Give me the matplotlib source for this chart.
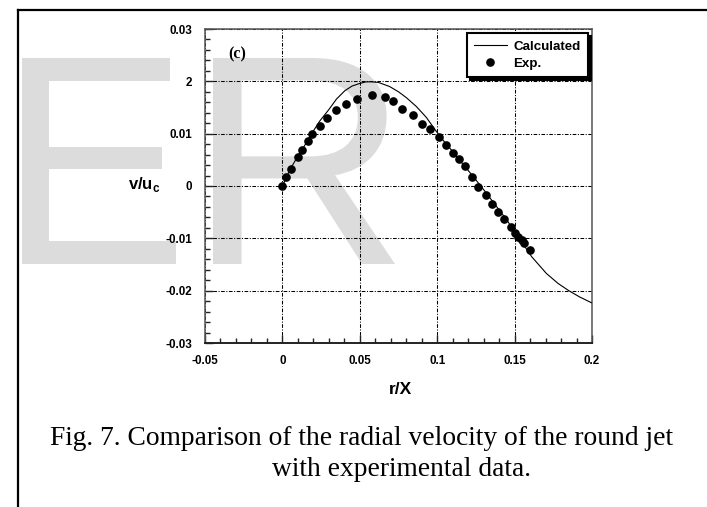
import matplotlib
matplotlib.use('Agg')
import matplotlib.pyplot as plt
from matplotlib.textpath import TextPath
from matplotlib.font_manager import FontProperties
from matplotlib.patches import PathPatch
from matplotlib.transforms import Affine2D
from matplotlib.lines import Line2D
from matplotlib.ticker import FixedLocator, MultipleLocator

# ---------------- data ----------------
calc_r = [0.0, 0.005, 0.010, 0.0133, 0.0187, 0.0241, 0.030, 0.0349, 0.0403, 0.0450,
          0.050, 0.0540, 0.0575, 0.062, 0.0693, 0.075, 0.080, 0.0865, 0.093, 0.0995,
          0.105, 0.110, 0.116, 0.123, 0.130, 0.137, 0.1447, 0.153, 0.161, 0.1705,
          0.178, 0.185, 0.192, 0.1996]
calc_v = [0.0, 0.0032, 0.0057, 0.0072, 0.0099, 0.0124, 0.0146, 0.0166, 0.0182, 0.0191,
          0.0196, 0.0199, 0.0199, 0.0198, 0.0190, 0.0180, 0.0169, 0.0152, 0.0131, 0.0104,
          0.0083, 0.0066, 0.0044, 0.0019, -0.0007, -0.0034, -0.0064, -0.0100, -0.0135, -0.0167,
          -0.0186, -0.0200, -0.0212, -0.0223]

exp_r = [0.0, 0.0021, 0.0056, 0.0103, 0.0129, 0.0166, 0.0194, 0.0241, 0.0287, 0.0345,
         0.0411, 0.0485, 0.0580, 0.0662, 0.0717, 0.0772, 0.0841, 0.0901, 0.0953, 0.1013,
         0.1056, 0.1099, 0.1142, 0.1181, 0.1226, 0.1263, 0.1313, 0.1352, 0.1391, 0.1433,
         0.1475, 0.1503, 0.1525, 0.1547, 0.1560, 0.1601]
exp_v = [0.0, 0.0017, 0.0033, 0.0056, 0.0068, 0.0086, 0.0100, 0.0115, 0.0129, 0.0145,
         0.0157, 0.0167, 0.0173, 0.0170, 0.0162, 0.0148, 0.0135, 0.0118, 0.0108, 0.0094,
         0.0078, 0.0063, 0.0051, 0.0038, 0.0018, -0.0001, -0.0018, -0.0034, -0.0050, -0.0064,
         -0.0079, -0.0090, -0.0097, -0.0104, -0.0108, -0.0123]

xticks = [-0.05, 0.0, 0.05, 0.1, 0.15, 0.2]
xtick_labels = ['-0.05', '0', '0.05', '0.1', '0.15', '0.2']
yticks = [-0.03, -0.02, -0.01, 0.0, 0.01, 0.02, 0.03]
ytick_labels = ['-0.03', '-0.02', '-0.01', '0', '0.01', '2', '0.03']

series_labels = ['Calculated', 'Exp.']
panel_label = '(c)'
x_label = 'r/X'
y_label = r'$\mathbf{v/u}_{\mathbf{c}}$'
caption_1 = 'Fig. 7. Comparison of the radial velocity of the round jet'
caption_2 = 'with experimental data.'

# ---------------- figure ----------------
W, H = 707, 507
plt.rcParams['mathtext.fontset'] = 'custom'
plt.rcParams['mathtext.bf'] = 'Liberation Sans:bold'
plt.rcParams['mathtext.rm'] = 'Liberation Sans'

fig = plt.figure(figsize=(W / 100, H / 100), dpi=100)
fig.patch.set_facecolor('white')

def fx(px):
    return px / W

def fy(py):
    return 1 - py / H

# watermark letters
def add_letter(ch, x0, x1, y_top, y_bot):
    tp = TextPath((0, 0), ch, size=100, prop=FontProperties(family='Liberation Sans'))
    ext = tp.get_extents()
    sx = (fx(x1) - fx(x0)) / ext.width
    sy = (fy(y_top) - fy(y_bot)) / ext.height
    tr = Affine2D().translate(-ext.x0, -ext.y0).scale(sx, sy).translate(fx(x0), fy(y_bot))
    patch = PathPatch(tr.transform_path(tp), transform=fig.transFigure,
                      facecolor='#dcdcdc', edgecolor='none', zorder=-5)
    fig.add_artist(patch)

add_letter('E', 22, 176, 58, 264)
add_letter('R', 213, 395, 58, 264)

# border lines
fig.add_artist(Line2D([fx(18.3), fx(18.3)], [0, fy(10.3)], transform=fig.transFigure,
                      color='black', lw=1.6, zorder=-4))
fig.add_artist(Line2D([fx(18.3), 1.0], [fy(10.3), fy(10.3)], transform=fig.transFigure,
                      color='black', lw=1.6, zorder=-4))

ax = fig.add_axes([fx(205), fy(343), fx(592) - fx(205), fy(29) - fy(343)])
ax.set_facecolor('none')

ax.set_xlim(-0.05, 0.2)
ax.set_ylim(-0.03, 0.03)

line, = ax.plot(calc_r, calc_v, color='black', lw=0.8, zorder=3)
pts, = ax.plot(exp_r, exp_v, linestyle='none', marker='o', ms=5.2,
               color='black', zorder=4)

ax.xaxis.set_major_locator(FixedLocator(xticks))
ax.set_xticklabels(xtick_labels)
ax.yaxis.set_major_locator(FixedLocator(yticks))
ax.set_yticklabels(ytick_labels)
ax.xaxis.set_minor_locator(MultipleLocator(0.01))
ax.yaxis.set_minor_locator(MultipleLocator(0.002))

ax.tick_params(which='both', direction='in', top=False, right=False, width=1.0,
               color='#222222')
ax.tick_params(which='major', length=6)
ax.tick_params(which='minor', length=3.3)
ax.tick_params(axis='x', pad=9)
ax.tick_params(axis='y', pad=9)
for lab in ax.get_xticklabels() + ax.get_yticklabels():
    lab.set_fontfamily('Liberation Sans')
    lab.set_fontweight('bold')
    lab.set_fontsize(8.4)

ax.grid(True, which='major', color='black', lw=0.75,
        linestyle=(0, (3.5, 1.5, 1.0, 1.5)), zorder=1)

for side in ['left', 'right', 'top']:
    ax.spines[side].set_color('#555555')
    ax.spines[side].set_linewidth(1.1)
ax.spines['bottom'].set_color('#222222')
ax.spines['bottom'].set_linewidth(1.4)

leg = ax.legend([line, pts], series_labels, loc='upper right',
                bbox_to_anchor=(0.9897, 0.987), fancybox=False,
                shadow={'color': 'black', 'alpha': 1.0},
                edgecolor='black', framealpha=1, handlelength=2.45,
                handletextpad=0.5, labelspacing=0.38, borderpad=0.55,
                borderaxespad=0.0,
                prop=FontProperties(family='Liberation Sans', weight='bold', size=9.6))
leg.get_frame().set_linewidth(1.5)
leg.set_zorder(10)

ax.text(-0.029, 0.0252, panel_label, fontfamily='Liberation Serif', fontweight='bold',
        fontsize=11.5, ha='center', va='center', zorder=5)

fig.text(fx(400), fy(390), x_label, fontfamily='Liberation Sans', fontweight='bold',
         fontsize=12.5, ha='center', va='center')
fig.text(fx(128), fy(184), y_label, fontsize=12, ha='left', va='center')

fig.text(fx(50), fy(445), caption_1, fontfamily='Liberation Serif', fontsize=19.8,
         ha='left', va='baseline')
fig.text(fx(272), fy(476), caption_2, fontfamily='Liberation Serif', fontsize=19.8,
         ha='left', va='baseline')

fig.savefig('out.png', dpi=100, facecolor='white')
